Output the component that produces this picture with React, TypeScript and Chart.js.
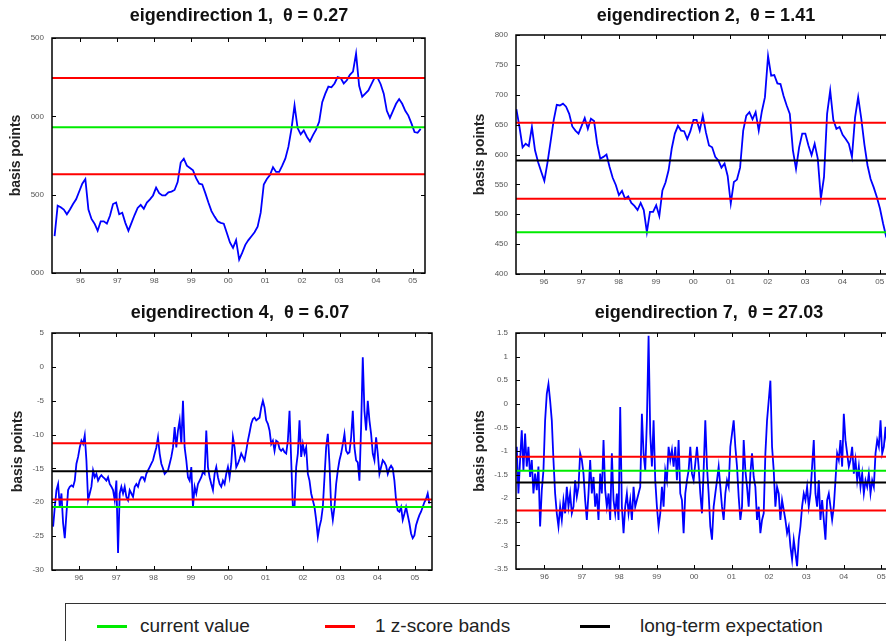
import React, { useEffect, useRef } from "react";
import { Chart, registerables } from "chart.js";
Chart.register(...registerables);

// ---------- shared axis data ----------
const xTickYears = [1996, 1997, 1998, 1999, 2000, 2001, 2002, 2003, 2004, 2005];
const xTickLabels = ["96", "97", "98", "99", "00", "01", "02", "03", "04", "05"];

// ---------- eigendirection 1 (monthly, axis in tick units) ----------
const p1Start = 1995.3;
const p1Step = 0.0833;
const p1Values = [
  0.47, 0.86, 0.84, 0.81, 0.75, 0.81, 0.88, 0.94, 1.04, 1.14,
  1.20, 0.81, 0.69, 0.63, 0.54, 0.66, 0.66, 0.63, 0.73, 0.88,
  0.90, 0.75, 0.77, 0.64, 0.54, 0.64, 0.74, 0.83, 0.87, 0.82,
  0.90, 0.94, 0.99, 1.09, 1.02, 0.99, 0.99, 1.03, 1.04, 1.06,
  1.16, 1.41, 1.46, 1.37, 1.34, 1.31, 1.21, 1.14, 1.13, 1.02,
  0.90, 0.79, 0.72, 0.66, 0.64, 0.63, 0.51, 0.39, 0.32, 0.42,
  0.17, 0.26, 0.36, 0.42, 0.47, 0.52, 0.59, 0.77, 1.13, 1.20,
  1.25, 1.35, 1.29, 1.29, 1.37, 1.46, 1.61, 1.84, 2.14, 1.85,
  1.77, 1.82, 1.74, 1.68, 1.76, 1.83, 1.93, 2.18, 2.29, 2.38,
  2.37, 2.42, 2.50, 2.49, 2.42, 2.46, 2.53, 2.57, 2.80, 2.39,
  2.25, 2.29, 2.33, 2.41, 2.49, 2.49, 2.41, 2.29, 2.07, 1.98,
  2.07, 2.16, 2.22, 2.16, 2.07, 2.01, 1.91, 1.80, 1.79, 1.84,
];
const p1YTickLabels = ["000", "500", "000", "500"];
const p1Upper = 2.49;
const p1Lower = 1.26;
const p1Current = 1.86;

// ---------- eigendirection 2 (monthly) ----------
const p2Start = 1995.26;
const p2Step = 0.0833;
const p2Values = [
  676, 646, 612, 618, 614, 646, 607, 587, 571, 556,
  586, 621, 657, 683, 682, 685, 680, 668, 647, 640,
  635, 648, 661, 643, 660, 656, 618, 593, 596, 600,
  579, 561, 549, 532, 539, 526, 530, 519, 514, 507,
  519, 507, 470, 504, 504, 515, 497, 540, 553, 574,
  610, 635, 648, 640, 639, 626, 639, 658, 658, 640,
  665, 637, 615, 612, 596, 590, 578, 585, 564, 518,
  554, 558, 578, 640, 665, 671, 659, 671, 640, 672,
  696, 765, 732, 733, 719, 718, 698, 682, 668, 607,
  576, 612, 635, 635, 615, 599, 618, 593, 526, 562,
  668, 707, 658, 643, 646, 633, 626, 618, 596, 662,
  696, 660, 617, 582, 559, 545, 529, 510, 485, 463,
  452,
];
const p2Upper = 653;
const p2Lower = 526;
const p2Expect = 590;
const p2Current = 470;

// ---------- eigendirection 4 (half-monthly) ----------
const p3Start = 1995.31;
const p3Step = 0.0446;
const p3Values = [
  -23.6, -20.7, -18.2, -17.3, -20.7, -18.7, -23.1, -25.3, -21.7, -18.2,
  -17.7, -17.5, -17.7, -16.8, -14.3, -13.3, -11.9, -10.9, -11.4, -10.1,
  -13.8, -19.7, -18.7, -17.7, -15.3, -16.3, -15.8, -16.8, -16.3, -16.0,
  -16.3, -16.5, -16.8, -16.3, -17.3, -17.7, -18.2, -19.7, -16.8, -27.5,
  -18.7, -17.7, -18.7, -17.7, -19.2, -19.7, -18.2, -18.7, -19.2, -17.7,
  -17.3, -17.7, -16.8, -16.3, -16.3, -16.8, -15.8, -15.3, -14.8, -14.3,
  -13.8, -12.8, -11.9, -10.4, -12.8, -14.3, -15.0, -15.8, -15.5, -15.3,
  -14.3, -13.3, -11.9, -8.9, -11.9, -9.4, -7.9, -11.4, -5.0, -11.9,
  -13.8, -16.3, -16.8, -14.8, -20.7, -17.7, -18.7, -17.3, -16.8, -16.3,
  -15.5, -15.8, -9.4, -14.8, -16.3, -17.3, -18.2, -15.8, -14.8, -16.3,
  -17.3, -17.7, -16.8, -17.3, -15.8, -14.8, -16.3, -14.3, -10.4, -11.9,
  -14.8, -14.3, -13.6, -12.8, -13.3, -13.8, -12.4, -10.9, -9.7, -8.4,
  -7.7, -7.5, -7.9, -7.7, -7.5, -6.0, -5.0, -6.0, -7.9, -8.4,
  -9.4, -11.4, -10.9, -12.4, -10.9, -11.1, -12.1, -12.4, -12.1, -12.6,
  -12.8, -10.9, -6.5, -13.8, -20.7, -20.7, -14.8, -12.8, -7.9, -13.3,
  -11.4, -12.8, -11.9, -15.8, -16.8, -18.7, -19.7, -20.7, -22.6, -25.1,
  -23.6, -22.6, -20.7, -16.3, -11.9, -9.9, -14.3, -20.7, -22.6, -20.7,
  -17.3, -15.3, -13.8, -12.8, -11.4, -9.9, -12.4, -12.8, -12.6, -10.4,
  -6.5, -11.9, -13.8, -14.1, -16.8, -8.9, 1.4, -6.5, -9.4, -5.0,
  -7.9, -9.9, -12.8, -13.8, -10.4, -12.8, -15.8, -14.8, -13.8, -14.1,
  -14.6, -15.8, -15.0, -14.6, -15.0, -16.8, -19.7, -21.2, -21.4, -20.7,
  -22.6, -21.7, -20.7, -21.9, -23.1, -24.6, -25.3, -24.9, -23.4, -22.6,
  -21.9, -21.4, -20.7, -20.0, -19.5, -18.7, -20.2,
];
const p3Upper = -11.3;
const p3Lower = -19.6;
const p3Expect = -15.4;
const p3Current = -20.7;

// ---------- eigendirection 7 (half-monthly) ----------
const p4Start = 1995.26;
const p4Step = 0.0446;
const p4Values = [
  -0.91, -1.90, -1.19, -0.56, -1.41, -0.63, -1.33, -0.91, -1.55, -1.19,
  -1.90, -1.48, -1.83, -1.33, -2.60, -1.83, -1.41, -0.35, 0.21, 0.42,
  0.07, -0.35, -1.19, -1.90, -2.32, -2.60, -2.18, -2.46, -2.04, -2.32,
  -1.76, -2.18, -1.90, -2.32, -2.18, -1.62, -1.97, -1.76, -1.05, -1.19,
  -1.48, -2.04, -2.46, -1.90, -1.19, -1.90, -1.55, -2.18, -1.90, -2.46,
  -1.48, -1.90, -0.77, -1.83, -2.18, -1.90, -2.46, -1.05, -2.04, -2.32,
  -1.90, -2.46, -0.07, -2.18, -2.74, -2.18, -1.90, -2.32, -2.04, -2.46,
  -1.76, -2.18, -2.04, -1.90, -1.76, -0.21, -1.05, -1.41, -0.35, 1.44,
  -0.63, -1.33, -0.35, -1.62, -2.18, -2.60, -2.32, -1.76, -2.18, -1.41,
  -1.62, -0.91, -1.19, -0.98, -1.33, -0.91, -1.62, -0.77, -1.90, -2.04,
  -2.74, -1.90, -1.62, -1.41, -0.91, -1.48, -1.62, -1.26, -0.91, -1.33,
  -1.90, -2.32, -1.41, -0.35, -1.33, -1.90, -2.60, -2.88, -2.18, -1.90,
  -1.62, -1.33, -1.76, -2.18, -2.46, -1.90, -1.62, -1.76, -0.91, -0.63,
  -0.35, -0.91, -1.33, -1.97, -2.46, -2.18, -0.77, -1.41, -1.76, -2.18,
  -1.48, -1.05, -1.55, -1.76, -2.46, -2.18, -2.74, -2.46, -2.32, -1.05,
  -0.35, 0.07, 0.49, -0.91, -1.41, -2.18, -1.76, -1.90, -2.46, -2.04,
  -2.25, -2.46, -2.74, -2.60, -3.02, -3.30, -2.88, -3.16, -3.44, -2.88,
  -2.60, -2.18, -1.90, -2.04, -1.76, -2.18, -1.90, -1.33, -0.77, -1.90,
  -2.18, -1.62, -2.46, -2.04, -2.46, -2.88, -2.04, -1.90, -2.18, -2.46,
  -2.18, -1.62, -1.05, -1.19, -0.77, -1.33, -0.21, -0.77, -1.05, -1.33,
  -1.19, -0.91, -1.48, -1.19, -1.62, -1.33, -1.76, -1.48, -1.90, -1.62,
  -1.76, -1.48, -1.90, -1.62, -1.76, -1.05, -0.77, -0.91, -0.35, -1.05,
  -0.91, -0.49, -0.91,
];
const p4Upper = -1.12;
const p4Lower = -2.26;
const p4Expect = -1.67;
const p4Current = -1.42;

// ---------- styling ----------
const FONT = '"Liberation Sans", Arial, Helvetica, sans-serif';
const BLUE = "rgb(0,0,255)";
const RED = "rgb(255,0,0)";
const GREEN = "rgb(0,235,0)";
const BLACK = "rgb(0,0,0)";

const framePlugin = {
  id: "frameTicks",
  afterDatasetsDraw(chart: any) {
    const { ctx, chartArea: a, scales } = chart;
    ctx.save();
    ctx.strokeStyle = "#000";
    ctx.lineWidth = 1.5;
    ctx.strokeRect(a.left, a.top, a.right - a.left, a.bottom - a.top);
    ctx.lineWidth = 1;
    const L = 4;
    ctx.beginPath();
    scales.x.ticks.forEach((t: any) => {
      const px = Math.round(scales.x.getPixelForValue(t.value)) + 0.5;
      ctx.moveTo(px, a.bottom);
      ctx.lineTo(px, a.bottom - L);
      ctx.moveTo(px, a.top);
      ctx.lineTo(px, a.top + L);
    });
    scales.y.ticks.forEach((t: any) => {
      const py = Math.round(scales.y.getPixelForValue(t.value)) + 0.5;
      ctx.moveTo(a.left, py);
      ctx.lineTo(a.left + L, py);
      ctx.moveTo(a.right, py);
      ctx.lineTo(a.right - L, py);
    });
    ctx.stroke();
    ctx.restore();
  },
};

type Ref = { value: number; color: string };
type PanelCfg = {
  start: number;
  step: number;
  values: number[];
  refs: Ref[];
  xMin: number;
  xMax: number;
  yMin: number;
  yMax: number;
  yStep: number;
  yLabels?: string[];
  yAxisWidth: number;
  titlePad: number;
  padding: { top: number; right: number; bottom: number; left: number };
};

function makeConfig(p: PanelCfg): any {
  const series = p.values.map((v, i) => ({ x: p.start + i * p.step, y: v }));
  const hline = (v: number) => [
    { x: p.xMin, y: v },
    { x: p.xMax, y: v },
  ];
  const datasets: any[] = [
    ...p.refs.map((r) => ({
      data: hline(r.value),
      borderColor: r.color,
      borderWidth: 2,
      pointRadius: 0,
      fill: false,
    })),
    {
      data: series,
      borderColor: BLUE,
      borderWidth: 1.8,
      pointRadius: 0,
      tension: 0,
      fill: false,
    },
  ];
  const yTicks: any = {
    stepSize: p.yStep,
    autoSkip: false,
    padding: 8,
    color: "#555",
    font: { family: FONT, size: 8 },
  };
  if (p.yLabels) {
    const labels = p.yLabels;
    yTicks.callback = (v: number) => labels[Math.round((v - p.yMin) / p.yStep)] ?? "";
  } else {
    yTicks.callback = (v: number) => String(Math.round(v * 100) / 100);
  }
  return {
    type: "line",
    data: { datasets },
    options: {
      responsive: false,
      animation: false,
      devicePixelRatio: 1,
      layout: { padding: p.padding },
      plugins: {
        legend: { display: false },
        tooltip: { enabled: false },
        title: { display: false },
      },
      scales: {
        x: {
          type: "linear",
          min: p.xMin,
          max: p.xMax,
          grid: { display: false, drawTicks: false },
          border: { display: false },
          afterBuildTicks: (ax: any) => {
            ax.ticks = xTickYears.map((v) => ({ value: v }));
          },
          afterFit: (ax: any) => {
            ax.height = 20;
          },
          ticks: {
            autoSkip: false,
            maxRotation: 0,
            padding: 3,
            color: "#555",
            font: { family: FONT, size: 8 },
            callback: (v: number) => {
              const k = xTickYears.indexOf(Math.round(v));
              return k >= 0 ? xTickLabels[k] : "";
            },
          },
        },
        y: {
          type: "linear",
          min: p.yMin,
          max: p.yMax,
          grid: { display: false, drawTicks: false },
          border: { display: false },
          ticks: yTicks,
          afterFit: (ax: any) => {
            ax.width = p.yAxisWidth;
          },
          title: {
            display: true,
            text: "basis points",
            color: "#222",
            font: { family: FONT, size: 14, weight: "bold" },
            padding: { top: p.titlePad, bottom: 0 },
          },
        },
      },
    },
    plugins: [framePlugin],
  };
}

function Panel(props: { left: number; top: number; width: number; height: number; cfg: PanelCfg }) {
  const ref = useRef<HTMLCanvasElement>(null);
  useEffect(() => {
    const chart = new Chart(ref.current as HTMLCanvasElement, makeConfig(props.cfg));
    return () => chart.destroy();
  }, []);
  return (
    <canvas
      ref={ref}
      width={props.width}
      height={props.height}
      style={{ position: "absolute", left: props.left, top: props.top, width: props.width, height: props.height }}
    />
  );
}

const panel1: PanelCfg = {
  start: p1Start,
  step: p1Step,
  values: p1Values,
  refs: [
    { value: p1Upper, color: RED },
    { value: p1Lower, color: RED },
    { value: p1Current, color: GREEN },
  ],
  xMin: 1995.23,
  xMax: 2005.33,
  yMin: 0,
  yMax: 3,
  yStep: 1,
  yLabels: p1YTickLabels,
  yAxisWidth: 52,
  titlePad: 8,
  padding: { top: 38, right: 15, bottom: 7, left: 0 },
};

const panel2: PanelCfg = {
  start: p2Start,
  step: p2Step,
  values: p2Values,
  refs: [
    { value: p2Upper, color: RED },
    { value: p2Lower, color: RED },
    { value: p2Expect, color: BLACK },
    { value: p2Current, color: GREEN },
  ],
  xMin: 1995.25,
  xMax: 2005.33,
  yMin: 400,
  yMax: 800,
  yStep: 50,
  yAxisWidth: 76,
  titlePad: 32,
  padding: { top: 35, right: 18, bottom: 6, left: 0 },
};

const panel3: PanelCfg = {
  start: p3Start,
  step: p3Step,
  values: p3Values,
  refs: [
    { value: p3Upper, color: RED },
    { value: p3Lower, color: RED },
    { value: p3Expect, color: BLACK },
    { value: p3Current, color: GREEN },
  ],
  xMin: 1995.28,
  xMax: 2005.46,
  yMin: -30,
  yMax: 5,
  yStep: 5,
  yAxisWidth: 52,
  titlePad: 10,
  padding: { top: 33, right: 8, bottom: 10, left: 0 },
};

const panel4: PanelCfg = {
  start: p4Start,
  step: p4Step,
  values: p4Values,
  refs: [
    { value: p4Upper, color: RED },
    { value: p4Lower, color: RED },
    { value: p4Current, color: GREEN },
    { value: p4Expect, color: BLACK },
  ],
  xMin: 1995.24,
  xMax: 2005.45,
  yMin: -3.5,
  yMax: 1.5,
  yStep: 0.5,
  yAxisWidth: 76,
  titlePad: 32,
  padding: { top: 33, right: 12, bottom: 11, left: 0 },
};

const titleStyle = (cx: number, cy: number): React.CSSProperties => ({
  position: "absolute",
  left: cx - 200,
  top: cy - 11,
  width: 400,
  height: 22,
  lineHeight: "22px",
  textAlign: "center",
  fontFamily: FONT,
  fontWeight: "bold",
  fontSize: 18,
  color: "#111",
  whiteSpace: "pre",
});

const legendItems = [
  { color: GREEN, label: "current value", lineLeft: 97, textLeft: 140 },
  { color: RED, label: "1 z-score bands", lineLeft: 325, textLeft: 375 },
  { color: BLACK, label: "long-term expectation", lineLeft: 580, textLeft: 640 },
];

export default function App() {
  return (
    <div
      style={{
        position: "absolute",
        left: 0,
        top: 0,
        width: 886,
        height: 641,
        overflow: "hidden",
        background: "#fff",
        fontFamily: FONT,
      }}
    >
      <Panel left={0} top={0} width={440} height={300} cfg={panel1} />
      <Panel left={440} top={0} width={470} height={300} cfg={panel2} />
      <Panel left={0} top={300} width={440} height={300} cfg={panel3} />
      <Panel left={440} top={300} width={470} height={300} cfg={panel4} />

      <div style={titleStyle(239, 15)}>{"eigendirection 1,  θ = 0.27"}</div>
      <div style={titleStyle(706, 15)}>{"eigendirection 2,  θ = 1.41"}</div>
      <div style={titleStyle(240, 312)}>{"eigendirection 4,  θ = 6.07"}</div>
      <div style={titleStyle(709, 312)}>{"eigendirection 7,  θ = 27.03"}</div>

      <div
        style={{
          position: "absolute",
          left: 65,
          top: 603,
          width: 900,
          height: 80,
          border: "1.5px solid #333",
          boxSizing: "border-box",
        }}
      />
      {legendItems.map((it) => (
        <React.Fragment key={it.label}>
          <div
            style={{
              position: "absolute",
              left: it.lineLeft,
              top: 625,
              width: 30,
              height: 3,
              background: it.color,
            }}
          />
          <div
            style={{
              position: "absolute",
              left: it.textLeft,
              top: 614,
              height: 24,
              lineHeight: "24px",
              fontSize: 19,
              color: "#222",
              whiteSpace: "pre",
            }}
          >
            {it.label}
          </div>
        </React.Fragment>
      ))}
    </div>
  );
}
